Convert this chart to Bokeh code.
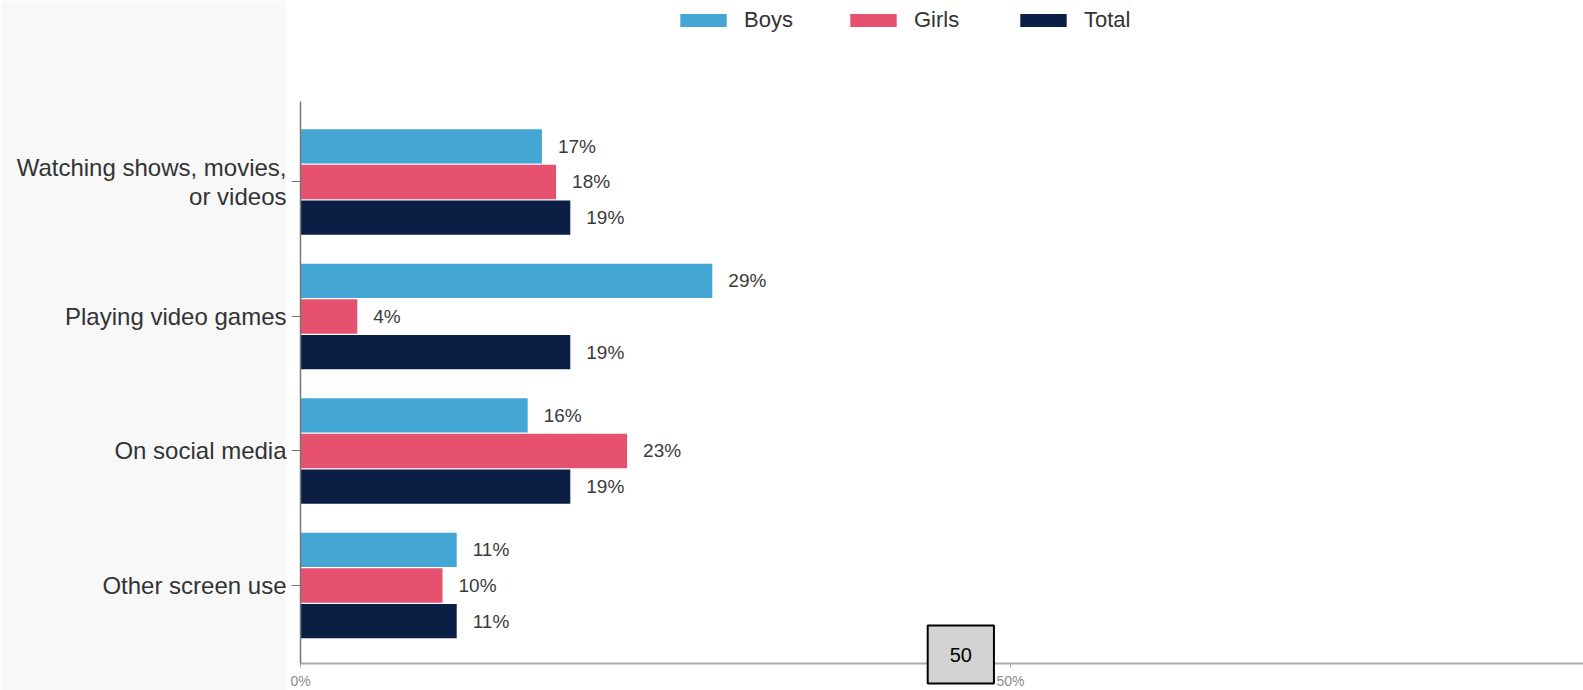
from bokeh.plotting import figure
from bokeh.models import Range1d, FixedTicker, PrintfTickFormatter, Legend, LegendItem, Label, LinearAxis, ColumnDataSource
from bokeh.transform import dodge
from bokeh.core.properties import value
from bokeh.embed import file_html
from bokeh.resources import INLINE

categories = ["Watching shows, movies,\nor videos", "Playing video games", "On social media", "Other screen use"]
boys = [17, 29, 16, 11]
girls = [18, 4, 23, 10]
total = [19, 19, 19, 11]
series_names = ["Boys", "Girls", "Total"]
series_colors = ["#44a6d5", "#e5516f", "#0b1f45"]
x_ticks = [0, 50, 100]
page_badge = "50"

FONT = "Liberation Sans"

n = len(categories)
ypos = [n - i - 0.5 for i in range(n)]  # first category on top

src = ColumnDataSource(dict(
    y=ypos,
    boys=boys, girls=girls, total=total,
    boys_lbl=[f"{v}%" for v in boys],
    girls_lbl=[f"{v}%" for v in girls],
    total_lbl=[f"{v}%" for v in total],
))

p = figure(
    width=1583, height=690,
    y_range=Range1d(-0.2807, n + 0.8494),
    x_range=Range1d(-0.986, 90.35),
    output_backend="svg", toolbar_location=None,
    min_border_left=286, min_border_top=0, min_border_right=0, min_border_bottom=0,
)
p.outline_line_color = None
p.xgrid.visible = False
p.ygrid.visible = False
p.background_fill_color = "white"
p.border_fill_color = "#f8f8f9"

offsets = [0.265, 0.0, -0.265]
cols = ["boys", "girls", "total"]
renderers = []
for name, col, color, off in zip(series_names, cols, series_colors, offsets):
    r = p.hbar(y=dodge("y", off), left=0, right=col, height=0.255,
               source=src, fill_color=color, line_color=None)
    renderers.append(r)
    p.text(x=col, y=dodge("y", off), text=col + "_lbl", source=src,
           x_offset=16, text_baseline="middle", text_align="left",
           text_font=value(FONT), text_font_size="19px", text_color="#3a3a3a")

legend = Legend(
    items=[LegendItem(label=nm, renderers=[r]) for nm, r in zip(series_names, renderers)],
    orientation="horizontal", location=(388, 657),
    glyph_width=58, glyph_height=16, label_standoff=12, spacing=38, label_width=62,
    label_text_font=FONT, label_text_font_size="22px", label_text_color="#333333",
    padding=0, margin=0, border_line_color=None, background_fill_alpha=0,
)
p.add_layout(legend, "center")

# y axis line and ticks at x = 0
yax = p.yaxis[0]
yax.fixed_location = 0
yax.ticker = FixedTicker(ticks=ypos)
yax.major_label_overrides = {y: "" for y in ypos}
yax.bounds = (-0.08, n + 0.0985)
yax.axis_line_color = "#777777"
yax.axis_line_width = 1.5
yax.major_tick_out = 9
yax.major_tick_in = 0
yax.major_tick_line_color = "#777777"
yax.minor_tick_line_color = None

# category labels
ylab = LinearAxis(ticker=FixedTicker(ticks=ypos),
                  major_label_overrides={y: c for y, c in zip(ypos, categories)})
ylab.axis_line_color = None
ylab.major_tick_line_color = None
ylab.minor_tick_line_color = None
ylab.major_tick_out = 0
ylab.major_tick_in = 0
ylab.major_label_standoff = 0
ylab.major_label_text_font = FONT
ylab.major_label_text_font_size = "24px"
ylab.major_label_text_line_height = 1.05
ylab.major_label_text_color = "#333333"
p.add_layout(ylab, "left")

# x axis, drawn at the foot of the bars
xax = p.xaxis[0]
xax.fixed_location = -0.08
xax.bounds = (0, 100)
xax.ticker = FixedTicker(ticks=x_ticks)
xax.formatter = PrintfTickFormatter(format="%d%%")
xax.axis_line_color = "#aaaaaa"
xax.axis_line_width = 2
xax.major_tick_out = 4
xax.major_tick_in = 0
xax.major_tick_line_color = "#aaaaaa"
xax.minor_tick_line_color = None
xax.major_label_standoff = 5
xax.major_label_text_font = FONT
xax.major_label_text_font_size = "14px"
xax.major_label_text_color = "#8c8c8c"

badge = Label(x=46.5, y=36, y_units="screen", text=page_badge,
              text_align="center", text_baseline="middle",
              text_font=FONT, text_font_size="20px", text_color="black",
              background_fill_color="#d3d3d3", border_line_color="black", border_line_width=2,
              padding=22)
p.add_layout(badge)

open("out.html", "w").write(file_html(p, INLINE))
